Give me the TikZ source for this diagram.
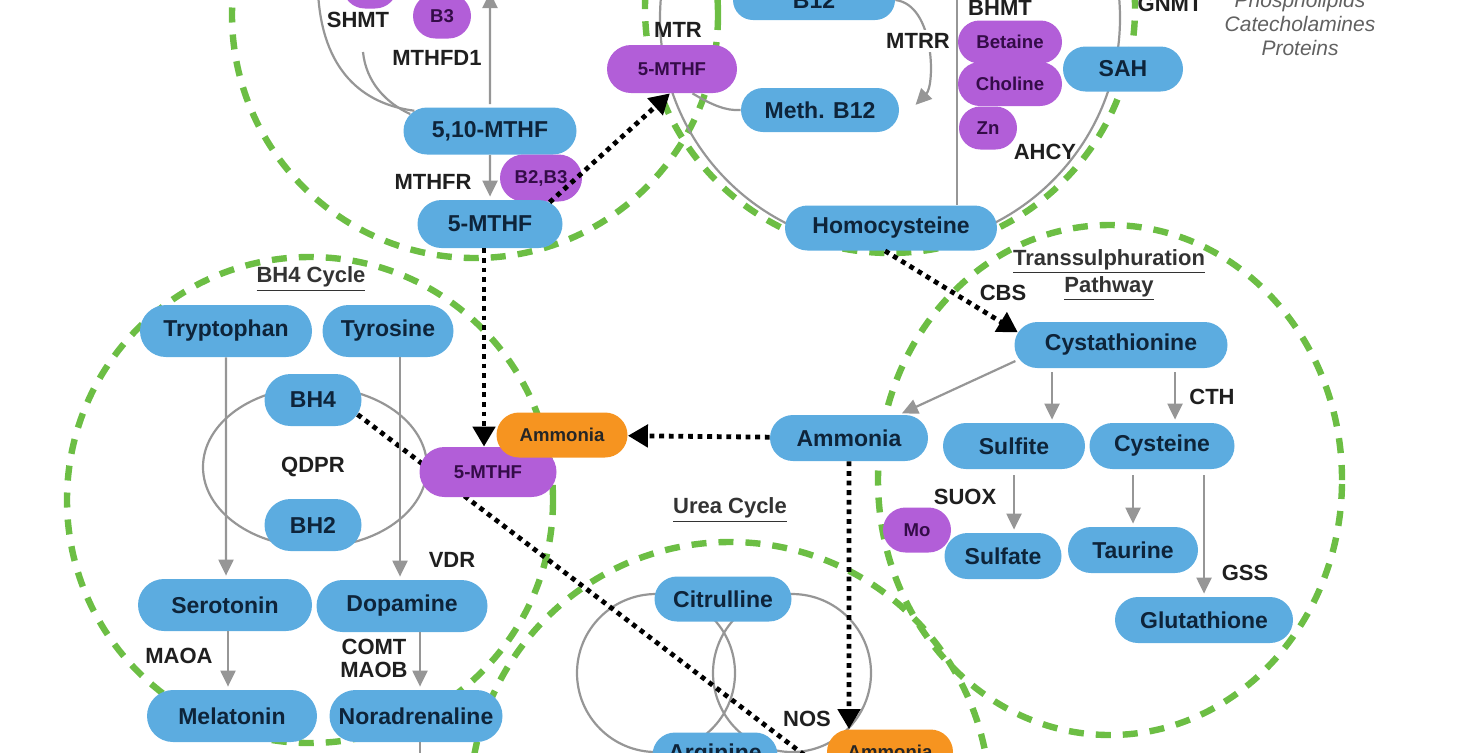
\documentclass[tikz,border=0pt]{standalone}
\usepackage{fontspec}
\setmainfont{Liberation Sans}
\usetikzlibrary{shapes.misc,arrows.meta,calc}

\definecolor{molblue}{RGB}{92,172,224}
\definecolor{molpurple}{RGB}{178,94,216}
\definecolor{molorange}{RGB}{246,148,32}
\definecolor{cyclegreen}{RGB}{108,190,68}
\definecolor{txtblue}{RGB}{14,36,58}
\definecolor{txtpurple}{RGB}{52,12,72}
\definecolor{linegrey}{RGB}{150,150,150}

\begin{document}
\begin{tikzpicture}[x=0.5pt, y=0.5pt,
    mol/.style={rounded rectangle, fill=molblue, text=txtblue, inner sep=0pt,
      minimum height=23pt, font=\fontsize{11.5}{13}\selectfont\bfseries},
    cof/.style={mol, fill=molpurple, text=txtpurple, font=\fontsize{9.3}{11}\selectfont\bfseries},
    nh/.style={mol, fill=molorange, text=black!85, font=\fontsize{9.3}{11}\selectfont\bfseries},
    enz/.style={font=\fontsize{11}{11.5}\selectfont\bfseries, text=black!88, inner sep=0pt, align=center},
    ttl/.style={enz, text=black!80, font=\fontsize{11}{13.5}\selectfont\bfseries},
    cyc/.style={cyclegreen, line width=3.2pt, dash pattern=on 7.5pt off 6pt},
    ring/.style={linegrey, line width=1.1pt},
    gar/.style={ring, -{Triangle[length=8pt,width=7.5pt]}, shorten >=1.5pt},
    dot/.style={black, line width=2.4pt, dash pattern=on 2.4pt off 2.4pt},
    dar/.style={dot, -{Triangle[length=10pt,width=11pt]}}]

\useasboundingbox (0,0) rectangle (1460,-752);
\clip (0,0) rectangle (1460,-752);

% cycle outlines
\draw[cyc] (475,-15) circle[radius=243];    % folate
\draw[cyc] (890,-8) circle[radius=245];     % methionine
\draw[cyc] (310,-500) circle[radius=243];   % BH4
\draw[cyc] (730,-802) circle[radius=260];   % urea
\draw[cyc] (1110,-480) ellipse[x radius=232, y radius=255];  % transsulphuration

% grey loops
\draw[ring] (890,-18) circle[radius=230];
\draw[ring] (315,-467) ellipse[x radius=112, y radius=80];
\draw[ring] (656,-673) circle[radius=79];
\draw[ring] (792,-673) circle[radius=79];

% BH4 -> urea side, runs under the 5-MTHF
\coordinate (bhout) at (816,-764);
\node[mol, minimum width=48.5pt, minimum height=26pt] (bhfour) at (313,-400) {BH4};
\draw[dot] (bhfour.-18) -- (bhout);

% folate cycle
\node[cof, minimum width=27.5pt, minimum height=22.5pt] (cofa) at (370,14) {};
\node[cof, minimum width=29pt, minimum height=22.5pt] (bthree) at (442,-16) {B3};
\node[mol, minimum width=86.5pt, minimum height=23.5pt] (mthften) at (490,-131) {5,10-MTHF};
\node[cof, minimum width=41pt, minimum height=23.5pt] (btwothree) at (541,-178) {B2,B3};
\node[mol, minimum width=72.5pt, minimum height=24pt] (mthf) at (490,-224) {5-MTHF};

% methionine cycle
\node[cof, minimum width=65pt, minimum height=24pt] (pmthf) at (672,-69) {5-MTHF};
\node[mol, minimum width=81pt, minimum height=20pt] (btwelve) at (814,0) {B12};
\node[mol, minimum width=79pt, minimum height=22pt] (methb) at (820,-110) {Meth. B12};
\node[cof, minimum width=29pt, minimum height=21.5pt] (zn) at (988,-128) {Zn};
\node[cof, minimum width=52pt, minimum height=22pt] (choline) at (1010,-84) {Choline};
\node[cof, minimum width=52pt, minimum height=21.5pt] (betaine) at (1010,-42) {Betaine};
\node[mol, minimum width=60pt, minimum height=22.5pt] (sah) at (1123,-69) {SAH};
\node[mol, minimum width=106pt, minimum height=22.5pt] (hcy) at (891,-228) {Homocysteine};

% BH4 cycle
\node[mol, minimum width=86pt, minimum height=26pt] (trp) at (226,-331) {Tryptophan};
\node[mol, minimum width=65.5pt, minimum height=26pt] (tyr) at (388,-331) {Tyrosine};
\node[mol, minimum width=48.5pt, minimum height=26pt] (bhtwo) at (313,-525) {BH2};
\node[mol, minimum width=87pt, minimum height=26pt] (sero) at (225,-605) {Serotonin};
\node[mol, minimum width=85.5pt, minimum height=26pt] (dopa) at (402,-606) {Dopamine};
\node[mol, minimum width=85pt, minimum height=26pt] (mela) at (232,-716) {Melatonin};
\node[mol, minimum width=86.5pt, minimum height=26pt] (nora) at (416,-716) {Noradrenaline};

% ammonia and urea cycle
\node[cof, minimum width=68.5pt, minimum height=25pt] (pmthfm) at (488,-472) {5-MTHF};
\node[nh, minimum width=65.5pt, minimum height=22.5pt] (ammo) at (562,-435) {Ammonia};
\node[mol, minimum width=79pt, minimum height=23pt] (ammb) at (849,-438) {Ammonia};
\node[mol, minimum width=68.5pt, minimum height=22.5pt] (citr) at (723,-599) {Citrulline};
\node[mol, minimum width=62.5pt, minimum height=22.5pt] (argi) at (715,-755) {Arginine};
\node[nh, minimum width=63pt, minimum height=22.5pt] (ammob) at (890,-752) {Ammonia};

% transsulphuration
\node[mol, minimum width=106.5pt] (cysta) at (1121,-345) {Cystathionine};
\node[mol, minimum width=71pt] (sulfite) at (1014,-446) {Sulfite};
\node[mol, minimum width=72.5pt] (cyst) at (1162,-446) {Cysteine};
\node[cof, minimum width=34pt, minimum height=22.5pt] (mo) at (917,-530) {Mo};
\node[mol, minimum width=58.5pt] (sulfate) at (1003,-556) {Sulfate};
\node[mol, minimum width=65pt] (taur) at (1133,-550) {Taurine};
\node[mol, minimum width=89pt] (glut) at (1204,-620) {Glutathione};

% folate connectors
\coordinate (shmtin) at (318,8);
\coordinate (shmtend) at (363,-52);
\coordinate (mthfdtop) at (490,8);
\draw[ring] (shmtin) .. controls (322,-70) and (362,-104) .. (mthften.165);
\draw[ring] (shmtend) .. controls (366,-82) and (386,-103) .. (mthften.168);
\draw[gar, {Triangle[length=8pt,width=7.5pt]}-] (mthfdtop) -- (mthften);
\draw[gar] (mthften) -- (mthf);
\draw[dar] (mthf.20) -- (pmthf.-95);
\draw[dar] ([xshift=-3pt]mthf.south) -- ([xshift=-3pt]mthf.south |- pmthfm.north);

% methionine connectors
\coordinate (bhmttop) at (957,8);
\draw[ring] (pmthf.-50) .. controls (712,-105) and (726,-111) .. (methb.west);
\draw[gar] (btwelve.east) .. controls (935,-5) and (935,-85) .. ([xshift=7pt,yshift=1.5pt]methb.east);
\draw[ring] (bhmttop) -- (bhmttop |- hcy.north);
\draw[dar] ([xshift=-3pt]hcy.south) -- (cysta.173);

% BH4 connectors
\coordinate (noraout) at (420,-770);
\draw[gar] (trp) -- (trp |- sero.north);
\draw[gar] ([xshift=6pt]tyr.south) -- ([xshift=6pt]tyr.south |- dopa.north);
\draw[gar] ([xshift=1.5pt]sero.south) -- ([xshift=1.5pt]sero.south |- mela.north);
\draw[gar] ([xshift=9pt]dopa.south) -- ([xshift=9pt]dopa.south |- nora.north);
\draw[ring] ([xshift=2pt]nora.south) -- (noraout);

% ammonia connectors
\draw[dar] (ammb) -- (ammo);
\draw[dar] (ammb) -- (ammb |- ammob.north);

% transsulphuration connectors
\draw[gar, shorten <=2pt] (cysta.188) -- (ammb.25);
\draw[gar, shorten <=2pt] ([xshift=-34.5pt]cysta.south) -- ([xshift=-34.5pt]cysta.south |- sulfite.north);
\draw[gar, shorten <=2pt] ([xshift=27pt]cysta.south) -- ([xshift=27pt]cysta.south |- cyst.north);
\draw[gar, shorten <=3pt] (sulfite.south) -- (sulfite.south |- sulfate.north);
\draw[gar, shorten <=3pt] (cyst.south -| taur.north) -- (taur.north);
\draw[gar, shorten <=3pt] (cyst.south -| glut.north) -- (glut.north);

% enzymes
\node[enz] (shmt) at (358,-20) {SHMT};
\node[enz] (mthfdone) at (437,-58) {MTHFD1};
\node[enz] (mthfr) at (433,-182) {MTHFR};
\node[enz] (mtr) at (678,-30) {MTR};
\node[enz, fill=white, inner sep=1.5pt] (mtrr) at (918,-41) {MTRR};
\node[enz] (bhmt) at (1000,-8) {BHMT};
\node[enz] (ahcy) at (1045,-152) {AHCY};
\node[enz] (gnmt) at (1170,-4) {GNMT};
\node[enz] (qdpr) at (313,-467) {QDPR};
\node[enz] (vdr) at (452,-560) {VDR};
\node[enz] (maoa) at (179,-656) {MAOA};
\node[enz] (comt) at (374,-658) {COMT\\MAOB};
\node[enz] (nos) at (807,-719) {NOS};
\node[enz] (cbs) at (1003,-293) {CBS};
\node[enz] (cth) at (1212,-397) {CTH};
\node[enz] (suox) at (965,-497) {SUOX};
\node[enz] (gss) at (1245,-573) {GSS};

% products and headings
\node[font=\fontsize{10.5}{12}\selectfont\itshape, text=black!62, align=center] (prods) at (1300,-24) {Phospholipids\\Catecholamines\\Proteins};
\node[ttl] (bhttl) at (311,-279) {\underline{BH4 Cycle}};
\node[ttl] (ureattl) at (730,-510) {\underline{Urea Cycle}};
\node[ttl] (tsttl) at (1109,-275) {\underline{Transsulphuration}\\\underline{Pathway}};

\end{tikzpicture}
\end{document}
